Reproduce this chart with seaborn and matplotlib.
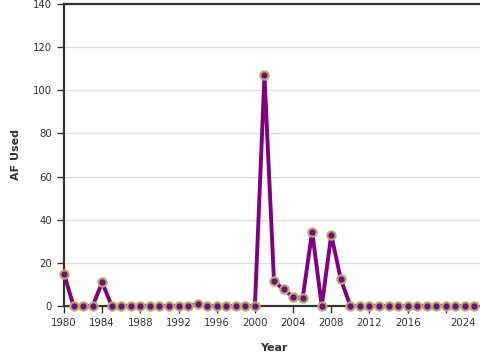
import pandas as pd
import seaborn as sns
import matplotlib
matplotlib.use("Agg")
import matplotlib.pyplot as plt
from matplotlib.transforms import ScaledTranslation

years = list(range(1980, 2024))
af_used = [15, 0, 0, 0, 11, 0, 0, 0, 0, 0,
           0, 0, 0, 0, 1, 0, 0, 0, 0, 0,
           0, 107, 11.5, 7.7, 4.2, 3.6, 34.5, 0, 33, 12.4,
           0, 0, 0, 0, 0, 0, 0, 0, 0, 0,
           0, 0, 0, 0]
x_ticks = list(range(1980, 2025, 4))
x_tick_labels = [str(y) if y != 2020 else "" for y in x_ticks]
y_ticks = list(range(0, 141, 20))

df = pd.DataFrame({"Year": years, "AF Used": af_used})

sns.set_style("white")
fig = plt.figure(figsize=(4.8, 3.6), dpi=100)
ax = fig.add_axes([64 / 480, 54 / 360, 420 / 480, 302 / 360])

sns.lineplot(data=df, x="Year", y="AF Used", ax=ax, color="#800080",
             linewidth=2.8, marker="o", markersize=6,
             markerfacecolor="#6e1270", markeredgecolor="#b8a87a",
             markeredgewidth=1.5, clip_on=False, zorder=3)

ax.set_xlim(1980, 2024)
ax.set_ylim(0, 140)
ax.set_xticks(x_ticks)
ax.set_xticklabels(x_tick_labels)
ax.set_yticks(y_ticks)
ax.grid(axis="y", color="#dddddd", linewidth=0.9)
ax.set_axisbelow(True)
ax.tick_params(axis="both", length=5, width=1, color="#333333",
               labelsize=7.3, labelcolor="#333333", direction="out",
               bottom=True, left=True)
# last label flush right so it stays inside the figure
last = ax.xaxis.get_major_ticks()[-1].label1
last.set_horizontalalignment("right")
last.set_transform(last.get_transform() + ScaledTranslation(-6 / 72, 0, fig.dpi_scale_trans))
for s in ax.spines.values():
    s.set_color("#333333")
    s.set_linewidth(1.6)
ax.set_xlabel("Year", fontsize=8, fontweight="bold", color="#333333", labelpad=11)
ax.set_ylabel("AF Used", fontsize=8, fontweight="bold", color="#333333", labelpad=9)

fig.savefig("out.png", dpi=100)
